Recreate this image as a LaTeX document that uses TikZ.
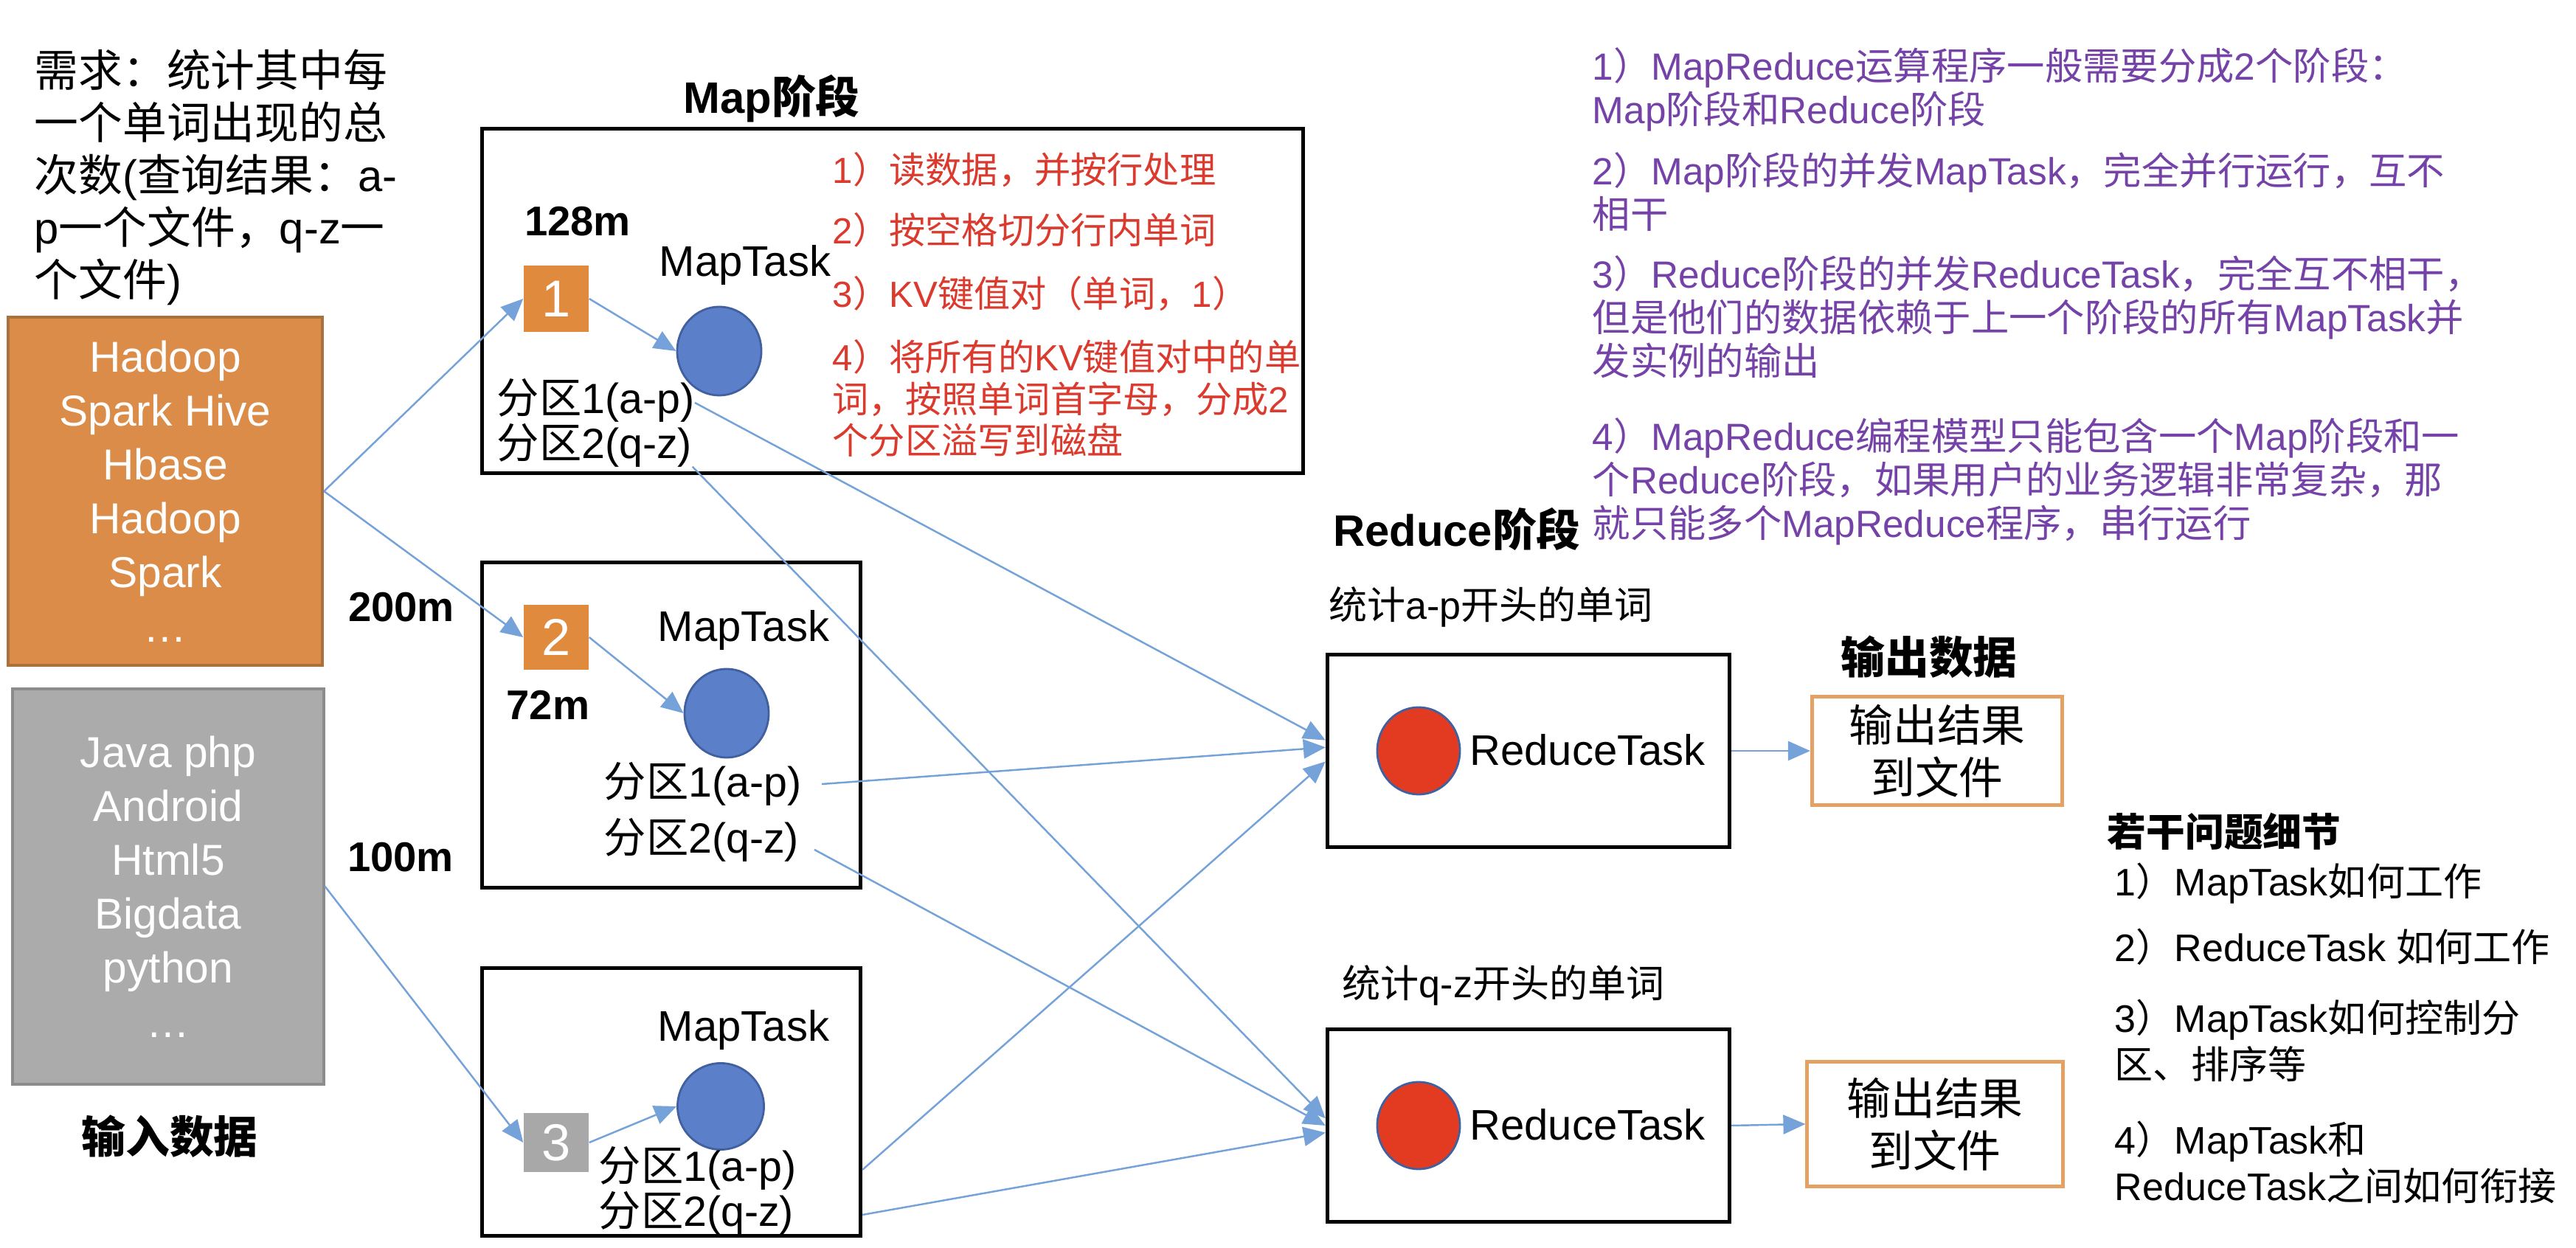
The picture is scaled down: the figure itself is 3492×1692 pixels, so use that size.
\documentclass[tikz,border=0pt]{standalone}
\usepackage{fontspec}
\setmainfont{Liberation Sans}
\newfontfamily\latfont{Liberation Sans}
\newfontfamily\cjkfont{Noto Sans CJK SC}
\usetikzlibrary{shapes.geometric,arrows.meta}

% switch to the CJK font for Chinese characters, back to Liberation Sans otherwise
\newXeTeXintercharclass\cjkclass
\newcount\cjkc
\newcommand\cjkrange[2]{\cjkc=#1\relax
  \loop\XeTeXcharclass\cjkc=\cjkclass\relax
  \ifnum\cjkc<#2\relax\advance\cjkc by 1\relax\repeat}
\cjkrange{"3000}{"303F}
\cjkrange{"4E00}{"9FFF}
\cjkrange{"FF00}{"FFEF}
\XeTeXinterchartoks 0 \cjkclass = {\cjkfont}
\XeTeXinterchartoks 4095 \cjkclass = {\cjkfont}
\XeTeXinterchartoks \cjkclass 0 = {\latfont}
\XeTeXinterchartoks \cjkclass 4095 = {\latfont}
\XeTeXinterchartokenstate=1

\newcommand\fsz[2]{\fontsize{#1}{#2}\selectfont}

\definecolor{srcorange}{HTML}{DA8C48}
\definecolor{srcorangedk}{HTML}{A9713C}
\definecolor{srcgray}{HTML}{ABABAB}
\definecolor{srcgraydk}{HTML}{8C8C8C}
\definecolor{splitorange}{HTML}{E08A3E}
\definecolor{splitgray}{HTML}{A8A8A8}
\definecolor{taskblue}{HTML}{5B7FC9}
\definecolor{taskbluedk}{HTML}{41609F}
\definecolor{taskred}{HTML}{E23B22}
\definecolor{arrowblue}{HTML}{74A2D9}
\definecolor{notepurple}{HTML}{7543A8}
\definecolor{stepred}{HTML}{DB3A2E}
\definecolor{outorange}{HTML}{E3A264}

\begin{document}
\begin{tikzpicture}[x=0.01cm, y=-0.01cm,
  every node/.style={inner sep=0pt},
  txt/.style={anchor=west, align=left},
  head/.style={font=\bfseries\fsz{17}{20}},
  sizelbl/.style={font=\bfseries\fsz{16}{19}},
  plain/.style={font=\fsz{16.5}{19}},
  srcbox/.style={draw, line width=1.2pt, text=white, align=center, font=\fsz{16.7}{20.8}},
  stagebox/.style={draw, line width=1.4pt},
  split/.style={minimum width=0.88cm, minimum height=0.88cm, text=white, font=\fsz{20}{24}},
  maptask/.style={ellipse, fill=taskblue, draw=taskbluedk, line width=0.8pt, minimum width=1.14cm, minimum height=1.2cm},
  redtask/.style={ellipse, fill=taskred, draw=taskbluedk, line width=0.8pt, minimum width=1.12cm, minimum height=1.18cm},
  part/.style={anchor=west, font=\fsz{16.3}{19}, text height=0.4cm, text depth=0.1cm},
  mapstep/.style={txt, text=stepred, font=\fsz{14}{16.2}},
  remark/.style={txt, text=notepurple, font=\fsz{14.6}{16.8}},
  question/.style={txt, font=\fsz{14.8}{18}},
  note/.style={font=\fsz{14.8}{17}},
  outbox/.style={draw=outorange, line width=1.4pt, align=center, font=\fsz{17}{20.2}},
  arr/.style={-{Triangle[length=0.3cm,width=0.26cm]}, draw=arrowblue, line width=0.7pt}]

\fill[white] (0,0) rectangle (3492,1692);
\useasboundingbox (0,0) rectangle (3492,1692);

% input data
\node[txt, font=\fsz{17}{20.2}] (req) at (46,240) {需求：统计其中每\\一个单词出现的总\\次数(查询结果：a-\\p一个文件，q-z一\\个文件)};
\node[srcbox, fill=srcorange, draw=srcorangedk, minimum width=4.26cm, minimum height=4.72cm] (src1) at (224,666) {Hadoop\\Spark Hive\\Hbase\\Hadoop\\Spark\\…};
\node[srcbox, fill=srcgray, draw=srcgraydk, minimum width=4.21cm, minimum height=5.35cm] (src2) at (228,1202) {Java php\\Android\\Html5\\Bigdata\\python\\…};
\node[head] (inlbl) at (230,1541) {输入数据};

% map stage
\node[head] (maplbl) at (1046,134) {Map阶段};
\node[stagebox, minimum width=11.13cm, minimum height=4.67cm] (mapA) at (1210,408) {};
\node[stagebox, minimum width=5.13cm, minimum height=4.40cm] (mapB) at (910,983) {};
\node[stagebox, minimum width=5.13cm, minimum height=3.62cm] (mapC) at (910,1494) {};

\node[sizelbl] (sz1) at (783,300) {128m};
\node[sizelbl] (sz2) at (544,823) {200m};
\node[sizelbl] (sz3) at (743,956) {72m};
\node[sizelbl] (sz4) at (543,1162) {100m};

\node[split, fill=splitorange, minimum height=0.9cm] (sp1) at (754,405) {1};
\node[split, fill=splitorange] (sp2) at (754,864) {2};
\node[split, fill=splitgray, minimum height=0.8cm] (sp3) at (754,1549) {3};

\node[plain] (mtl1) at (1010,360) {MapTask};
\node[plain] (mtl2) at (1008,855) {MapTask};
\node[plain] (mtl3) at (1008,1396) {MapTask};
\node[maptask] (mt1) at (975,476) {};
\node[maptask] (mt2) at (985,967) {};
\node[maptask, minimum width=1.17cm, minimum height=1.17cm] (mt3) at (977,1500) {};

\node[part] (p1a) at (673,546) {分区1(a-p)};
\node[part] (p1b) at (673,607) {分区2(q-z)};
\node[part] (p2a) at (818,1065) {分区1(a-p)};
\node[part] (p2b) at (818,1141) {分区2(q-z)};
\node[part] (p3a) at (811,1586) {分区1(a-p)};
\node[part] (p3b) at (811,1647) {分区2(q-z)};

\node[mapstep] (ms1) at (1128,230) {1）读数据，并按行处理};
\node[mapstep] (ms2) at (1128,312) {2）按空格切分行内单词};
\node[mapstep] (ms3) at (1128,398) {3）KV键值对（单词，1）};
\node[mapstep] (ms4) at (1128,540) {4）将所有的KV键值对中的单\\词，按照单词首字母，分成2\\个分区溢写到磁盘};

% reduce stage
\node[head] (redlbl) at (1975,717) {Reduce阶段};
\node[note] (rn1) at (2021,823) {统计a-p开头的单词};
\node[stagebox, minimum width=5.45cm, minimum height=2.60cm] (rd1) at (2072,1018) {};
\node[redtask] (rt1) at (1923,1018) {};
\node[plain] (rtl1) at (2152,1017) {ReduceTask};
\node[note] (rn2) at (2038,1336) {统计q-z开头的单词};
\node[stagebox, minimum width=5.45cm, minimum height=2.61cm] (rd2) at (2072,1526) {};
\node[redtask] (rt2) at (1923,1526) {};
\node[plain] (rtl2) at (2152,1525) {ReduceTask};

% output
\node[head] (outlbl) at (2615,891) {输出数据};
\node[outbox, minimum width=3.39cm, minimum height=1.47cm] (out1) at (2626,1018) {输出结果\\到文件};
\node[outbox, minimum width=3.46cm, minimum height=1.68cm] (out2) at (2623,1524) {输出结果\\到文件};

% notes
\node[remark] (r1) at (2158,121) {1）MapReduce运算程序一般需要分成2个阶段：\\Map阶段和Reduce阶段};
\node[remark] (r2) at (2158,260) {2）Map阶段的并发MapTask，完全并行运行，互不\\相干};
\node[remark] (r3) at (2158,430) {3）Reduce阶段的并发ReduceTask，完全互不相干，\\但是他们的数据依赖于上一个阶段的所有MapTask并\\发实例的输出};
\node[remark] (r4) at (2158,653) {4）MapReduce编程模型只能包含一个Map阶段和一\\个Reduce阶段，如果用户的业务逻辑非常复杂，那\\就只能多个MapReduce程序，串行运行};

\node[font=\bfseries\fsz{15}{18}] (qlbl) at (3015,1127) {若干问题细节};
\node[question] (q1) at (2866,1198) {1）MapTask如何工作};
\node[question] (q2) at (2866,1284) {2）ReduceTask 如何工作};
\node[question] (q3) at (2866,1411) {3）MapTask如何控制分\\区、排序等};
\node[question] (q4) at (2866,1576) {4）MapTask和\\ReduceTask之间如何衔接};

% connectors
\draw[arr] (src1.east) -- (sp1.west);
\draw[arr] (src1.east) -- (sp2.west);
\draw[arr] (src2.east) -- (sp3.west);
\draw[arr] (sp1.east) -- (mt1.west);
\draw[arr] (sp2.east) -- (mt2.west);
\draw[arr] (sp3.east) -- (mt3.west);
\draw[arr] (p1a.east) -- (rd1.177);
\draw[arr, shorten <=0.27cm] (p2a.east) -- (rd1.179);
\draw[arr] (p3a -| mapC.east) -- (rd1.183);
\draw[arr] (p1b.south east) -- (rd2.178);
\draw[arr, shorten <=0.23cm] (p2b.east) -- (rd2.180);
\draw[arr] (p3b -| mapC.east) -- (rd2.182);
\draw[arr] (rd1.east) -- (out1.west);
\draw[arr] (rd2.east) -- (out2.west);
\end{tikzpicture}
\end{document}
